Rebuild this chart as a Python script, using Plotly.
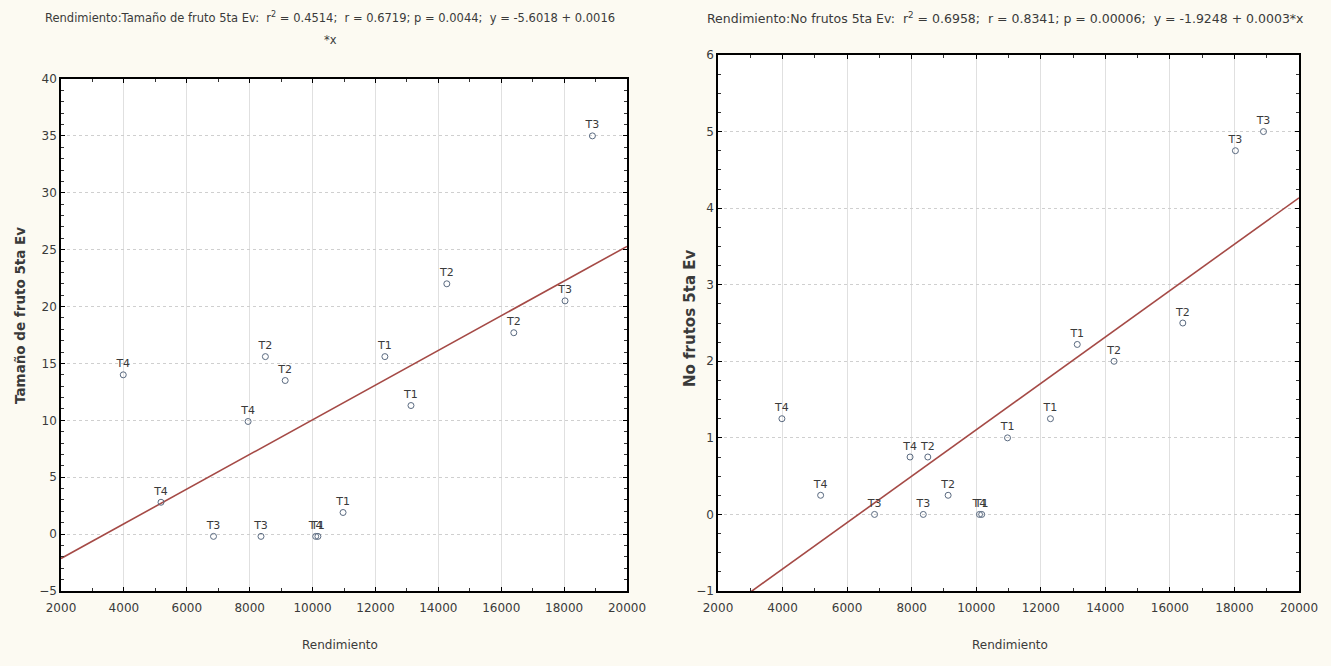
import plotly.graph_objects as go

# ---- data ----
rendimiento = [3980, 5180, 6850, 7950, 8360, 8500, 9130, 10100, 10170, 10970, 12300, 13130, 14270, 16400, 18030, 18900]
tratamiento = ["T4", "T4", "T3", "T4", "T3", "T2", "T2", "T4", "T1", "T1", "T1", "T1", "T2", "T2", "T3", "T3"]
tamano_fruto = [14.0, 2.8, -0.2, 9.9, -0.2, 15.6, 13.5, -0.2, -0.2, 1.9, 15.6, 11.3, 22.0, 17.7, 20.5, 35.0]
no_frutos = [1.25, 0.25, 0.0, 0.75, 0.0, 0.75, 0.25, 0.0, 0.0, 1.0, 1.25, 2.22, 2.0, 2.5, 4.75, 5.0]

fit_x = [2000, 20000]
left_intercept, left_slope = -5.19, 0.001524
right_intercept, right_slope = -1.9248, 0.000303

left_title = ("Rendimiento:Tamaño de fruto 5ta Ev:  r<sup>2</sup> = 0.4514;  r = 0.6719; p = 0.0044;  "
              "y = -5.6018 + 0.0016")
left_title2 = "*x"
right_title = ("Rendimiento:No frutos 5ta Ev:  r<sup>2</sup> = 0.6958;  r = 0.8341; p = 0.00006;  "
               "y = -1.9248 + 0.0003*x")
x_title = "Rendimiento"
left_ytitle = "Tamaño de fruto 5ta Ev"
right_ytitle = "No frutos 5ta Ev"

# ---- style ----
FONT = "DejaVu Sans, Verdana, sans-serif"
TXT = "#3a3a3a"
BG = "#fcfaf2"
MARK = "#5a6a80"
LINE = "#a54a46"

fig = go.Figure()

left_fit_y = [left_intercept + left_slope * v for v in fit_x]
right_fit_y = [right_intercept + right_slope * v for v in fit_x]

fig.add_trace(go.Scatter(x=fit_x, y=left_fit_y, mode="lines", line=dict(color=LINE, width=1.6),
                         xaxis="x", yaxis="y", showlegend=False, hoverinfo="skip"))
fig.add_trace(go.Scatter(x=rendimiento, y=tamano_fruto, mode="markers+text", text=tratamiento,
                         textposition="top center", textfont=dict(family=FONT, size=11, color=TXT),
                         marker=dict(symbol="circle-open", size=6, color=MARK, line=dict(width=1)),
                         xaxis="x", yaxis="y", showlegend=False))

fig.add_trace(go.Scatter(x=fit_x, y=right_fit_y, mode="lines", line=dict(color=LINE, width=1.6),
                         xaxis="x2", yaxis="y2", showlegend=False, hoverinfo="skip"))
fig.add_trace(go.Scatter(x=rendimiento, y=no_frutos, mode="markers+text", text=tratamiento,
                         textposition="top center", textfont=dict(family=FONT, size=11, color=TXT),
                         marker=dict(symbol="circle-open", size=6, color=MARK, line=dict(width=1)),
                         xaxis="x2", yaxis="y2", showlegend=False))

W, H = 1331, 666

def xaxis_common(domain, anchor):
    return dict(domain=domain, anchor=anchor, range=[2000, 20000], dtick=2000, tick0=2000,
                tickformat="d", automargin=False, ticklabelstandoff=5,
                showline=True, linecolor="black", linewidth=1.5, mirror="allticks",
                ticks="inside", ticklen=4, tickcolor="black",
                showgrid=True, gridcolor="#e0e0e0", gridwidth=1,
                zeroline=False,
                minor=dict(dtick=1000, ticks="inside", ticklen=3, tickcolor="#333", showgrid=False),
                tickfont=dict(family=FONT, size=12, color=TXT))

def yaxis_common(domain, anchor, rng, dtick, minor_dtick):
    return dict(domain=domain, anchor=anchor, range=rng, dtick=dtick, tick0=0,
                tickformat="d", automargin=False,
                showline=True, linecolor="black", linewidth=1.5, mirror="allticks",
                ticks="inside", ticklen=4, tickcolor="black",
                showgrid=True, gridcolor="#cfcfcf", gridwidth=1, griddash="dot",
                zeroline=False,
                minor=dict(dtick=minor_dtick, ticks="inside", ticklen=3, tickcolor="#333", showgrid=False),
                tickfont=dict(family=FONT, size=12, color=TXT))

ydom = [(H - 591) / H, (H - 79) / H]
ydom2 = [(H - 591) / H, (H - 55) / H]

fig.update_layout(
    width=W, height=H,
    margin=dict(l=0, r=0, t=0, b=0, pad=0),
    paper_bgcolor=BG, plot_bgcolor="white",
    xaxis=xaxis_common([61 / W, 627 / W], "y"),
    yaxis=yaxis_common(ydom, "x", [-5, 40], 5, 1),
    xaxis2=xaxis_common([718 / W, 1299 / W], "y2"),
    yaxis2=yaxis_common(ydom2, "x2", [-1, 6], 1, 0.25),
    font=dict(family=FONT, color=TXT),
)

ann = [
    dict(text=left_title, x=330 / W, y=1 - 18 / H, xanchor="center", yanchor="middle", font=dict(size=11.5)),
    dict(text=left_title2, x=330 / W, y=1 - 40 / H, xanchor="center", yanchor="middle", font=dict(size=11.5)),
    dict(text=right_title, x=1005 / W, y=1 - 18 / H, xanchor="center", yanchor="middle", font=dict(size=12.5)),
    dict(text=x_title, x=340 / W, y=1 - 645 / H, xanchor="center", yanchor="middle", font=dict(size=12)),
    dict(text=x_title, x=1010 / W, y=1 - 645 / H, xanchor="center", yanchor="middle", font=dict(size=12)),
    dict(text="<b>" + left_ytitle + "</b>", x=20 / W, y=1 - 316 / H, textangle=-90,
         xanchor="center", yanchor="middle", font=dict(size=13.5)),
    dict(text="<b>" + right_ytitle + "</b>", x=690 / W, y=1 - 318 / H, textangle=-90,
         xanchor="center", yanchor="middle", font=dict(size=15)),
]
for a in ann:
    a.update(xref="paper", yref="paper", showarrow=False)
    a["font"].update(family=FONT, color=TXT)
fig.update_layout(annotations=ann)

fig.write_html(
    "out.html",
    config={"displayModeBar": False},
    post_script="document.body.style.margin='0';document.body.style.overflow='hidden';"
                "document.documentElement.style.overflow='hidden';",
)
